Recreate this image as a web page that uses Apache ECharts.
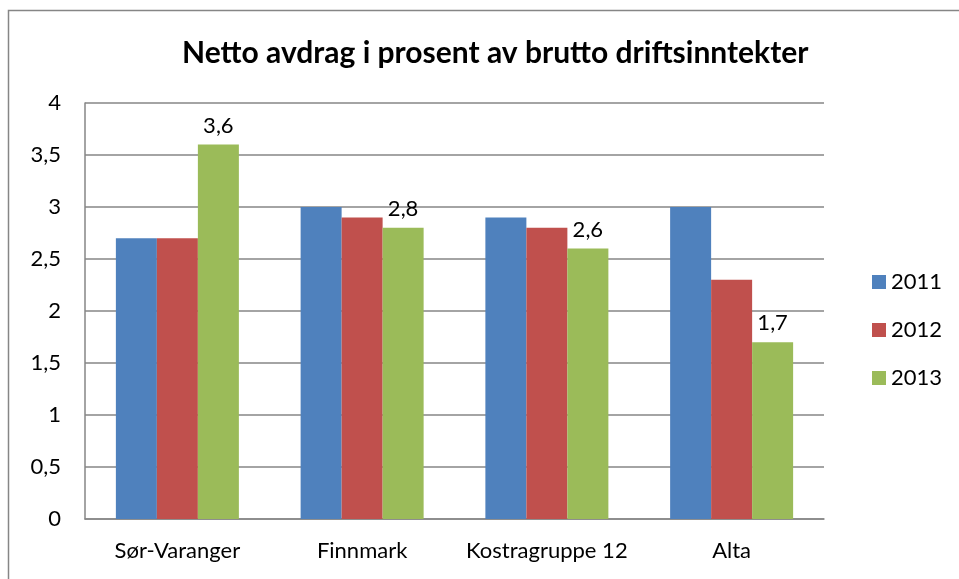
<!DOCTYPE html>
<html>
<head>
<meta charset="utf-8">
<script src="https://cdn.jsdelivr.net/npm/echarts@6/dist/echarts.min.js"></script>
<style>
  html, body { margin: 0; padding: 0; background: #fff; }
  #chart { width: 959px; height: 579px; }
</style>
</head>
<body>
<div id="chart"></div>
<script>
var categories = ['Sør-Varanger', 'Finnmark', 'Kostragruppe 12', 'Alta'];
var years = ['2011', '2012', '2013'];
var values2011 = [2.7, 3.0, 2.9, 3.0];
var values2012 = [2.7, 2.9, 2.8, 2.3];
var values2013 = [3.6, 2.8, 2.6, 1.7];
var colors = ['#4f81bd', '#c0504d', '#9bbb59'];

var font = 'Lato, "Open Sans", sans-serif';
var comma = function (v) { return String(v).replace('.', ','); };

var chart = echarts.init(document.getElementById('chart'));

function bar(name, data, color, showLabel) {
    return {
        name: name,
        type: 'bar',
        data: data,
        barWidth: 41,
        barGap: 0,
        barCategoryGap: '33%',
        itemStyle: { color: color },
        label: {
            show: showLabel,
            position: 'top',
            distance: 8,
            color: '#000',
            fontFamily: font,
            fontSize: 22,
            formatter: function (p) { return comma(p.value); }
        },
        animation: false
    };
}

chart.setOption({
    animation: false,
    title: {
        text: 'Netto avdrag i prosent av brutto driftsinntekter',
        left: 177,
        top: 33,
        textStyle: { fontFamily: font, fontSize: 30, fontWeight: 'bold', color: '#000' }
    },
    graphic: [{
        type: 'rect',
        shape: { x: 8.5, y: 10.5, width: 1000, height: 1000 },
        style: { fill: 'none', stroke: '#868686', lineWidth: 1.5 },
        silent: true
    }],
    legend: {
        orient: 'vertical',
        left: 867,
        top: 266,
        itemWidth: 14,
        itemHeight: 14,
        itemGap: 26,
        icon: 'rect',
        data: years,
        textStyle: { fontFamily: font, fontSize: 22, color: '#000' }
    },
    grid: { left: 85, top: 103, right: 135, bottom: 60 },
    xAxis: {
        type: 'category',
        data: categories,
        axisLine: { lineStyle: { color: '#868686', width: 1.5 } },
        axisTick: { show: false },
        axisLabel: { interval: 0, color: '#000', fontFamily: font, fontSize: 22, margin: 21 }
    },
    yAxis: {
        type: 'value',
        min: 0,
        max: 4,
        interval: 0.5,
        axisLine: { show: true, lineStyle: { color: '#868686', width: 1.5 } },
        axisTick: { show: false },
        splitLine: { lineStyle: { color: '#868686', width: 1.5 } },
        axisLabel: { color: '#000', fontFamily: font, fontSize: 22, margin: 24, formatter: comma }
    },
    series: [
        bar('2011', values2011, colors[0], false),
        bar('2012', values2012, colors[1], false),
        bar('2013', values2013, colors[2], true)
    ]
});
</script>
</body>
</html>
